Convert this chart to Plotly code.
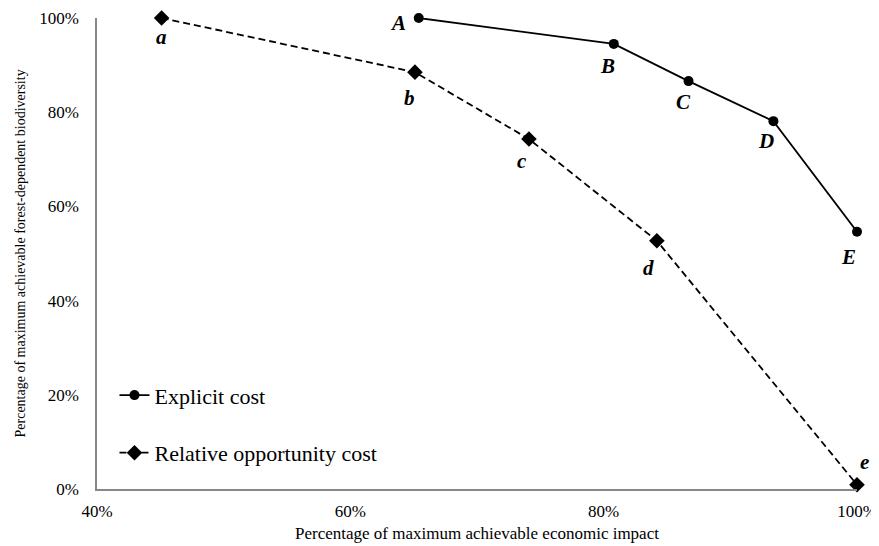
import plotly.graph_objects as go

explicit_x = [0.654, 0.808, 0.867, 0.934, 1.0]
explicit_y = [1.0, 0.945, 0.866, 0.781, 0.546]
explicit_labels = ["A", "B", "C", "D", "E"]

relative_x = [0.451, 0.651, 0.741, 0.842, 1.0]
relative_y = [1.0, 0.885, 0.743, 0.527, 0.009]
relative_labels = ["a", "b", "c", "d", "e"]

explicit_offsets = [(-21, -5), (-6, -22), (-5, -21), (-7, -20), (-9, -25)]
relative_offsets = [(0, -19), (-5, -26), (-7, -22), (-8, -27), (7, 23)]

FONT = "Liberation Serif, Times New Roman, serif"

fig = go.Figure()
fig.add_trace(go.Scatter(
    x=explicit_x, y=explicit_y, mode="lines+markers", name="Explicit cost",
    line=dict(color="black", width=1.8),
    marker=dict(symbol="circle", size=10, color="black"),
    legendgroup="g1", cliponaxis=False,
))
fig.add_trace(go.Scatter(
    x=relative_x, y=relative_y, mode="lines+markers", name="Relative opportunity cost",
    line=dict(color="black", width=1.8, dash="7px,4px"),
    marker=dict(symbol="diamond", size=12, color="black"),
    legendgroup="g2", cliponaxis=False,
))

for xs, ys, labs, offs in [(explicit_x, explicit_y, explicit_labels, explicit_offsets),
                           (relative_x, relative_y, relative_labels, relative_offsets)]:
    for x, y, t, (dx, dy) in zip(xs, ys, labs, offs):
        fig.add_annotation(x=x, y=y, text=f"<b><i>{t}</i></b>", showarrow=False,
                           xshift=dx, yshift=dy,
                           font=dict(family=FONT, size=21, color="black"))

# axis titles as annotations for precise placement
fig.add_annotation(xref="paper", yref="paper", x=0.5, y=0, yanchor="middle",
                   yshift=-44, showarrow=False,
                   text="Percentage of maximum achievable economic impact",
                   font=dict(family=FONT, size=17, color="black"))
fig.add_annotation(xref="paper", yref="paper", x=0, y=0.5, xanchor="center",
                   xshift=-77, textangle=-90, showarrow=False,
                   text="Percentage of maximum achievable forest-dependent biodiversity",
                   font=dict(family=FONT, size=14, color="black"))

fig.update_layout(
    width=871, height=538,
    margin=dict(l=89, r=22, t=10, b=57),
    paper_bgcolor="white", plot_bgcolor="white",
    font=dict(family=FONT, color="black"),
    showlegend=True,
    legend=dict(x=0.023, y=0.2435, xanchor="left", yanchor="top",
                font=dict(family=FONT, size=22, color="black"),
                traceorder="grouped", tracegroupgap=26,
                bgcolor="rgba(0,0,0,0)"),
)
fig.update_xaxes(
    range=[0.4, 1.0], dtick=0.2, tick0=0.4, tickformat=".0%",
    showgrid=False, zeroline=False, showline=True, linecolor="#888888", linewidth=1.5,
    ticks="", ticklabelstandoff=6, automargin=False,
    tickfont=dict(family=FONT, size=17, color="black"),
)
fig.update_yaxes(
    range=[0, 1.0], dtick=0.2, tickformat=".0%",
    showgrid=False, zeroline=False, showline=True, linecolor="#888888", linewidth=1.5,
    ticks="", ticklabelstandoff=13, automargin=False,
    tickfont=dict(family=FONT, size=17, color="black"),
)

fig.write_html("out.html")
